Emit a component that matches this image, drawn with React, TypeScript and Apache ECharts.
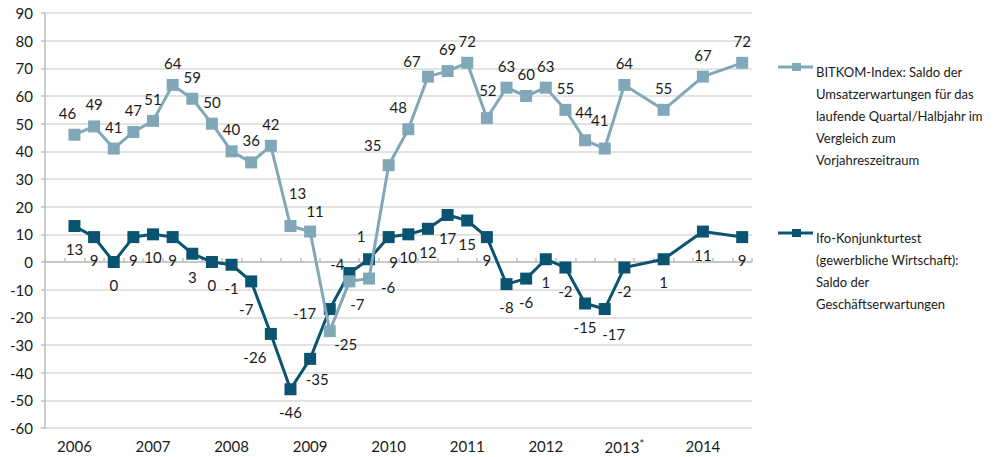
import React, { useEffect, useRef } from "react";
import * as echarts from "echarts";

const years = ["2006", "2007", "2008", "2009", "2010", "2011", "2012", "2013*", "2014"];
const quarters = ["Q1", "Q2", "Q3", "Q4"];
const categories = years.flatMap((y) => quarters.map((q) => `${y} ${q}`));

const bitkomName =
  "BITKOM-Index: Saldo der\nUmsatzerwartungen für das\nlaufende Quartal/Halbjahr im\nVergleich zum\nVorjahreszeitraum";
const ifoName =
  "Ifo-Konjunkturtest\n(gewerbliche Wirtschaft):\nSaldo der\nGeschäftserwartungen";

const bitkom = [
  null, 46, 49, 41, 47,
  51, 64, 59, 50,
  40, 36, 42, 13,
  11, -25, -7, -6,
  35, 48, 67, 69,
  72, 52, 63, 60,
  63, 55, 44, 41,
  64, null, 55, null,
  67, null, 72,
];

const ifo = [
  null, 13, 9, 0, 9,
  10, 9, 3, 0,
  -1, -7, -26, -46,
  -35, -17, -4, 1,
  9, 10, 12, 17,
  15, 9, -8, -6,
  1, -2, -15, -17,
  -2, null, 1, null,
  11, null, 9,
];

const yTicks = { min: -60, max: 90, interval: 10 };

// label placement (style, not data)
const bitkomDefaultShift = [0, -22];
const bitkomShift: Record<number, number[]> = {
  1: [-7, -22], 12: [7, -33], 13: [5, -21], 14: [16, 13], 15: [8, 23], 16: [19, 8],
  17: [-16, -20], 18: [-10, -22], 19: [-16, -16], 22: [1, -28], 27: [-1, -28], 28: [-5, -29],
};
const ifoDefaultShift = [0, 23];
const ifoShift: Record<number, number[]> = {
  10: [-5, 28], 11: [-16, 23], 13: [7, 20], 14: [-25, 4], 15: [-12, -9], 16: [-8, -23],
  17: [5, 25], 28: [9, 25],
};

const LIGHT = "#80a8b8";
const DARK = "#0b5471";
const FONT = "Lato";

function buildData(values: (number | null)[], shifts: Record<number, number[]>, def: number[]) {
  return values.map((v, i) =>
    v === null
      ? null
      : { value: v, label: { offset: shifts[i] || def } }
  );
}

export default function App() {
  const ref = useRef<HTMLDivElement>(null);
  useEffect(() => {
    if (!ref.current) return;
    const chart = echarts.init(ref.current, undefined, { renderer: "svg" });
    const labelBase = {
      show: true,
      position: "inside",
      color: "#1a1a1a",
      fontFamily: FONT,
      fontSize: 15,
      textBorderWidth: 0,
    };
    chart.setOption({
      animation: false,
      backgroundColor: "#ffffff",
      grid: { left: 45, right: 248, top: 13, bottom: 29, containLabel: false },
      xAxis: {
        type: "category",
        data: categories,
        boundaryGap: true,
        axisLine: { show: true, lineStyle: { color: "#bfbfbf", width: 1.5 } },
        axisTick: { show: true, inside: true, length: 4, interval: 0, lineStyle: { color: "#bfbfbf", width: 1.5 } },
        axisLabel: {
          interval: (i: number) => i % 4 === 1,
          margin: 10,
          color: "#1a1a1a",
          fontFamily: FONT,
          fontSize: 15,
          formatter: (v: string) => {
            const y = v.split(" ")[0];
            return y.endsWith("*") ? `${y.slice(0, -1)}{sup|*}` : y;
          },
          rich: {
            sup: { fontSize: 11, fontFamily: FONT, color: "#1a1a1a", verticalAlign: "top", padding: [0, 0, 6, 0] },
          },
        },
        splitLine: { show: false },
      },
      yAxis: {
        type: "value",
        min: yTicks.min,
        max: yTicks.max,
        interval: yTicks.interval,
        axisLine: { show: true, lineStyle: { color: "#bfbfbf", width: 1.5 } },
        axisTick: { show: true, length: 4, lineStyle: { color: "#bfbfbf", width: 1.5 } },
        axisLabel: { margin: 12, color: "#1a1a1a", fontFamily: FONT, fontSize: 15 },
        splitLine: { show: true, lineStyle: { color: "#dadada", width: 1.5 } },
      },
      series: [
        {
          name: "Ifo",
          type: "line",
          data: buildData(ifo, ifoShift, ifoDefaultShift),
          connectNulls: true,
          symbol: "rect",
          symbolSize: 12,
          showAllSymbol: true,
          z: 2,
          lineStyle: { color: DARK, width: 3 },
          itemStyle: { color: DARK },
          label: labelBase,
          emphasis: { disabled: true },
        },
        {
          name: "BITKOM",
          type: "line",
          data: buildData(bitkom, bitkomShift, bitkomDefaultShift),
          connectNulls: true,
          symbol: "rect",
          symbolSize: 12,
          showAllSymbol: true,
          z: 3,
          lineStyle: { color: LIGHT, width: 3 },
          itemStyle: { color: LIGHT },
          label: labelBase,
          emphasis: { disabled: true },
        },
      ],
      graphic: [
        { type: "line", shape: { x1: 778, y1: 67, x2: 813, y2: 67 }, style: { stroke: LIGHT, lineWidth: 3 } },
        { type: "rect", shape: { x: 792, y: 63, width: 9, height: 8 }, style: { fill: LIGHT } },
        {
          type: "text",
          x: 816,
          y: 61,
          style: { text: bitkomName, fill: "#1a1a1a", font: `13px ${FONT}`, lineHeight: 22, verticalAlign: "top", align: "left" },
        },
        { type: "line", shape: { x1: 778, y1: 233, x2: 813, y2: 233 }, style: { stroke: DARK, lineWidth: 3 } },
        { type: "rect", shape: { x: 792, y: 229, width: 9, height: 8 }, style: { fill: DARK } },
        {
          type: "text",
          x: 816,
          y: 227,
          style: { text: ifoName, fill: "#1a1a1a", font: `13px ${FONT}`, lineHeight: 22, verticalAlign: "top", align: "left" },
        },
      ],
    });
    return () => chart.dispose();
  }, []);
  return (
    <div
      ref={ref}
      style={{ position: "fixed", left: 0, top: 0, width: 1000, height: 457, background: "#fff" }}
    />
  );
}
